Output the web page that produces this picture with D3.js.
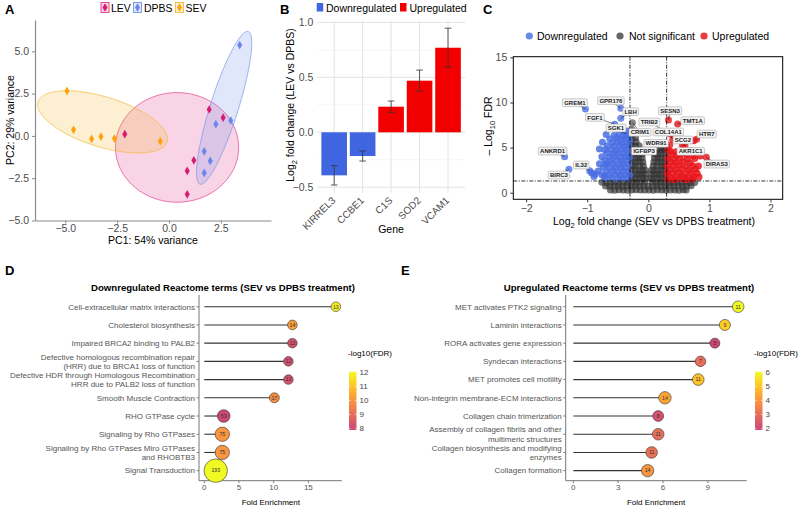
<!DOCTYPE html>
<html><head><meta charset="utf-8">
<script src="https://cdn.jsdelivr.net/npm/d3@7/dist/d3.min.js"></script>
<style>
html,body{margin:0;padding:0;background:#fff;}
svg{display:block;font-family:'Liberation Sans',Arial,Helvetica,sans-serif;}
</style></head>
<body>
<svg id="chart" width="800" height="509"></svg>
<script>
// ================= DATA =================
// Panel A – PCA
const pcaGroups = ["LEV","DPBS","SEV"];
const levPC  = [[-2.13,0.10],[0.88,-2.07],[0.88,-3.45],[1.20,-1.44],[1.94,1.56],[2.61,1.08]];
const dpbsPC = [[3.41,5.37],[2.98,0.91],[2.26,0.69],[1.70,-0.91],[1.99,-1.48],[1.70,-2.19]];
const sevPC  = [[-4.92,2.66],[-4.60,0.36],[-3.73,-0.18],[-3.28,-0.04],[-2.63,-0.16],[-0.42,-0.31]];
// ellipses: centre x, centre y, semi-axis1 (dx,dy), semi-axis2 (dx,dy) in data units
const levEllipse  = [0.39,-0.68, 2.97,0, 0,3.24];
const dpbsEllipse = [2.66,1.66, 1.163,4.515, 0.646,-0.249];
const sevEllipse  = [-3.20,0.83, 3.11,-1.18, -0.357,-1.41];
const pcaXTicks = [-5,-2.5,0,2.5];
const pcaYTicks = [-5,-2.5,0,2.5,5];

// Panel B – LEV vs DPBS
const genes   = ["KIRREL3","CCBE1","C1S","SOD2","VCAM1"];
const geneLFC = [-0.392,-0.216,0.233,0.470,0.770];
const geneErr = [0.088,0.046,0.052,0.096,0.178];
const geneDir = ["Downregulated","Downregulated","Upregulated","Upregulated","Upregulated"];
const lfcTicks = [-0.5,0,0.5,1.0];

// Panel C – volcano
const volcanoDown = [[-0.93,2.2],[-0.89,1.8],[-0.87,2.07],[-0.72,1.88],[-0.68,3.18],
 [-0.43,6.95],[-0.34,6.85],
 [-0.69,6.45],[-0.56,6.35],[-0.48,6.5],[-0.41,6.3],[-0.33,6.4],
 [-0.63,5.95],[-0.52,6.05],[-0.45,5.9],[-0.37,6.0],[-0.31,5.85],
 [-0.75,5.6],[-0.59,5.55],[-0.51,5.65],[-0.43,5.5],[-0.35,5.6],
 [-0.67,5.2],[-0.56,5.15],[-0.47,5.25],[-0.39,5.1],[-0.32,5.2],
 [-0.80,4.85],[-0.71,4.75],[-0.61,4.8],[-0.52,4.7],[-0.44,4.85],[-0.36,4.75],
 [-0.68,4.4],[-0.58,4.35],[-0.49,4.45],[-0.41,4.3],[-0.33,4.4],
 [-0.76,4.0],[-0.64,3.95],[-0.55,4.05],[-0.46,3.9],[-0.38,4.0],[-0.31,3.95],
 [-0.71,3.6],[-0.61,3.55],[-0.51,3.65],[-0.43,3.5],[-0.35,3.6],
 [-0.80,3.2],[-0.69,3.15],[-0.58,3.25],[-0.49,3.1],[-0.41,3.2],[-0.32,3.15],
 [-0.74,2.8],[-0.63,2.75],[-0.54,2.85],[-0.45,2.7],[-0.37,2.8],
 [-0.82,2.4],[-0.68,2.35],[-0.58,2.45],[-0.50,2.3],[-0.41,2.4],[-0.33,2.35],
 [-0.76,2.0],[-0.64,1.95],[-0.55,2.05],[-0.46,1.9],[-0.38,2.0],[-0.31,1.95],
 [-0.71,1.6],[-0.60,1.65],[-0.50,1.55],[-0.42,1.65],[-0.34,1.6]];
const volcanoUp = [[0.74,5.75],[0.56,5.25],[0.85,4.07],[0.62,4.55],
 [0.36,4.6],[0.45,4.55],[0.70,4.65],
 [0.38,4.2],[0.47,4.15],[0.63,4.25],[0.73,4.1],
 [0.32,3.8],[0.42,3.75],[0.52,3.85],[0.64,3.7],[0.76,3.8],
 [0.36,3.4],[0.46,3.35],[0.57,3.45],[0.68,3.3],
 [0.31,3.0],[0.41,2.95],[0.51,3.05],[0.62,2.9],[0.73,3.0],[0.82,2.95],
 [0.35,2.6],[0.45,2.55],[0.55,2.65],[0.66,2.5],[0.77,2.6],
 [0.31,2.2],[0.40,2.15],[0.50,2.25],[0.60,2.1],[0.70,2.2],[0.80,2.15],
 [0.34,1.8],[0.44,1.75],[0.54,1.85],[0.64,1.7],[0.74,1.8],[0.83,1.75],
 [0.32,1.5],[0.42,1.45],[0.52,1.55],[0.62,1.45],[0.72,1.5]];
const volcanoNS = [
 [-0.62,0.3],[-0.55,0.28],[-0.48,0.32],[-0.41,0.3],[-0.34,0.27],[-0.27,0.3],[-0.20,0.33],[-0.13,0.29],[-0.06,0.31],[0.01,0.3],
 [0.08,0.28],[0.15,0.32],[0.22,0.3],[0.29,0.27],[0.36,0.31],[0.43,0.3],[0.50,0.28],[0.57,0.32],[0.62,0.3],
 [-0.70,0.75],[-0.63,0.73],[-0.56,0.77],[-0.49,0.75],[-0.42,0.72],[-0.35,0.76],[-0.28,0.75],[-0.21,0.78],[-0.14,0.74],[-0.07,0.76],
 [0.0,0.72],[0.07,0.75],[0.14,0.77],[0.21,0.73],[0.28,0.75],[0.35,0.78],[0.42,0.74],[0.49,0.76],[0.56,0.73],[0.63,0.75],[0.70,0.77],
 [-0.76,1.15],[-0.69,1.13],[-0.62,1.17],[-0.55,1.15],[-0.48,1.12],[-0.41,1.16],[-0.34,1.15],[-0.27,1.18],[-0.20,1.14],[-0.13,1.16],[-0.06,1.2],
 [0.06,1.2],[0.13,1.14],[0.20,1.17],[0.27,1.15],[0.34,1.13],[0.41,1.16],[0.48,1.15],[0.55,1.12],[0.62,1.17],[0.69,1.15],[0.76,1.13],
 [-0.27,1.6],[-0.28,2.05],[-0.27,2.5],[-0.26,2.95],[-0.27,3.4],[-0.28,3.85],[-0.27,4.3],[-0.26,4.75],[-0.27,5.2],[-0.28,5.65],[-0.27,6.1],[-0.26,6.55],[-0.27,7.0],
 [-0.21,1.6],[-0.20,2.05],[-0.21,2.5],[-0.22,2.95],[-0.21,3.4],[-0.20,3.85],[-0.21,4.3],[-0.22,4.75],[-0.21,5.2],[-0.20,5.65],[-0.21,6.1],
 [-0.15,1.6],[-0.16,2.05],[-0.15,2.5],[-0.14,2.95],[-0.15,3.4],[-0.16,3.85],[-0.15,4.3],[-0.14,4.75],[-0.15,5.2],
 [-0.09,1.6],[-0.10,2.05],[-0.09,2.5],[-0.08,2.95],[-0.09,3.4],[-0.10,3.85],[-0.10,4.3],
 [-0.04,1.6],[-0.05,2.05],[-0.05,2.5],
 [0.04,1.6],[0.05,2.05],[0.05,2.5],
 [0.09,1.6],[0.10,2.05],[0.09,2.5],[0.08,2.95],[0.09,3.4],[0.10,3.85],[0.10,4.3],
 [0.15,1.6],[0.16,2.05],[0.15,2.5],[0.14,2.95],[0.15,3.4],[0.16,3.85],[0.15,4.3],[0.14,4.75],
 [0.21,1.6],[0.20,2.05],[0.21,2.5],[0.22,2.95],[0.21,3.4],[0.20,3.85],[0.21,4.3],[0.22,4.75],[0.21,5.1],
 [0.27,1.6],[0.28,2.05],[0.27,2.5],[0.26,2.95],[0.27,3.4],[0.28,3.85],[0.27,4.3],[0.26,4.75],[0.27,5.2]];
const volcanoLabelGenes = ["GREM1","ANKRD1","BIRC3","IL32","GPR176","LBH","FGF1","SGK1","CRIM1","SESN3","TMT1A","TRIB2","COL14A1","HTR7","WDR91","SCG2","IGFBP3","AKR1C1","DIRAS3"];
const volcanoLabelLFC   = [-1.03,-1.37,-1.30,-0.96,-0.45,-0.45,-0.55,-0.37,-0.26,0.33,0.48,0.36,0.40,0.79,0.35,0.60,0.32,0.55,0.95];
const volcanoLabelFDR   = [9.28,3.99,2.59,2.44,9.36,8.25,7.6,6.5,7.76,8.06,7.62,6.5,5.9,5.92,5.3,5.18,4.73,4.3,3.92];
const volcanoXTicks = [-2,-1,0,1,2];
const volcanoYTicks = [0,5,10,15];
const lfcCut = 0.3, fdrCut = 1.3;

// Panel D – downregulated Reactome
const downTerms = ["Cell-extracellular matrix interactions","Cholesterol biosynthesis","Impaired BRCA2 binding to PALB2",
 "Defective homologous recombination repair\n(HRR) due to BRCA1 loss of function",
 "Defective HDR through Homologous Recombination\nHRR due to PALB2 loss of function",
 "Smooth Muscle Contraction","RHO GTPase cycle","Signaling by Rho GTPases",
 "Signaling by Rho GTPases Miro GTPases\nand RHOBTB3","Signal Transduction"];
const downFold   = [18.96,12.70,12.70,12.12,12.12,10.10,2.80,2.60,2.60,1.65];
const downCount  = [13,14,12,12,12,17,53,75,75,193];
const downLogFDR = [11.8,10.2,8.2,8.2,8.2,9.8,7.9,10.0,10.0,12.05];
const downXTicks = [0,5,10,15];
const downLegendTicks = [8,9,10,11,12];

// Panel E – upregulated Reactome
const upTerms = ["MET activates PTK2 signaling","Laminin interactions","RORA activates gene expression","Syndecan interactions",
 "MET promotes cell motility","Non-integrin membrane-ECM interactions","Collagen chain trimerization",
 "Assembly of collagen fibrils and other\nmultimeric structures","Collagen biosynthesis and modifying\nenzymes","Collagen formation"];
const upFold   = [11.03,10.14,9.47,8.51,8.36,6.13,5.68,5.68,5.24,4.97];
const upCount  = [11,9,5,7,11,14,8,11,11,14];
const upLogFDR = [6.05,5.2,1.9,3.0,5.0,4.3,2.2,3.0,3.1,4.0];
const upXTicks = [0,3,6,9];
const upLegendTicks = [2,3,4,5,6];

// ================= DRAWING =================
const svg = d3.select("#chart");
const tickCol = "#4d4d4d";

function panelLabel(t,x,y){
  svg.append("text").attr("x",x).attr("y",y).text(t)
    .attr("font-size",13).attr("font-weight","bold").attr("fill","#000");
}
panelLabel("A",5,14); panelLabel("B",280,14); panelLabel("C",483,14);
panelLabel("D",5,275); panelLabel("E",401,275);

// ---------- Panel A ----------
(function(){
  const g = svg.append("g");
  const x = d3.scaleLinear().domain([-6.46,4.92]).range([35,271]);
  const y = d3.scaleLinear().domain([-5.0,6.85]).range([220.5,20]);
  const ellCol = {LEV:"#e0398f",DPBS:"#7493e8",SEV:"#f5b731"};
  const ptCol  = {LEV:"#d81b72",DPBS:"#6b84ee",SEV:"#ffa20a"};
  const pts = {LEV:levPC, DPBS:dpbsPC, SEV:sevPC};
  const ells = {LEV:levEllipse, DPBS:dpbsEllipse, SEV:sevEllipse};
  function ellPath(e){
    const a = d3.range(0,144).map(i=>i/144*2*Math.PI);
    return d3.line().curve(d3.curveLinearClosed)(a.map(t=>[
      x(e[0]+Math.cos(t)*e[2]+Math.sin(t)*e[4]),
      y(e[1]+Math.cos(t)*e[3]+Math.sin(t)*e[5])]));
  }
  pcaGroups.forEach(gr=>{
    g.append("path").attr("d",ellPath(ells[gr])).attr("fill",ellCol[gr]).attr("fill-opacity",0.22)
      .attr("stroke",ellCol[gr]).attr("stroke-opacity",0.75).attr("stroke-width",0.9);
  });
  const sym = d3.symbol(d3.symbolDiamond,22);
  pcaGroups.forEach(gr=>{
    g.selectAll(null).data(pts[gr]).enter().append("path").attr("d",sym)
      .attr("transform",d=>`translate(${x(d[0])},${y(d[1])})`).attr("fill",ptCol[gr]);
  });
  // axes
  const xa = g.append("g").attr("transform","translate(0,220.5)")
    .call(d3.axisBottom(x).tickValues(pcaXTicks).tickFormat(d3.format(".1f")).tickSize(3).tickPadding(1.5).tickSizeOuter(0));
  const ya = g.append("g").attr("transform","translate(35,0)")
    .call(d3.axisLeft(y).tickValues(pcaYTicks).tickFormat(d3.format(".1f")).tickSize(3).tickSizeOuter(0));
  [xa,ya].forEach(a=>{
    a.select(".domain").attr("stroke","#8a8a8a").attr("stroke-width",1.2);
    a.selectAll(".tick line").attr("stroke","#8a8a8a");
    a.selectAll("text").attr("fill",tickCol).attr("font-size",10.5).attr("font-family",null);
  });
  g.append("text").attr("x",153).attr("y",244).attr("text-anchor","middle").attr("font-size",10.5).attr("fill","#000").text("PC1: 54% variance");
  g.append("text").attr("transform","translate(13.5,120) rotate(-90)").attr("text-anchor","middle").attr("font-size",10.5).attr("fill","#000").text("PC2: 29% variance");
  // legend
  const lx = {LEV:[101,111],DPBS:[133.5,144],SEV:[175.5,185.5]};
  pcaGroups.forEach(gr=>{
    const [kx,tx] = lx[gr];
    g.append("rect").attr("x",kx).attr("y",2.5).attr("width",8).attr("height",10)
      .attr("fill",ellCol[gr]).attr("fill-opacity",0.22).attr("stroke",ellCol[gr]).attr("stroke-width",0.9);
    g.append("path").attr("d",sym).attr("transform",`translate(${kx+4},7.5)`).attr("fill",ptCol[gr]);
    g.append("text").attr("x",tx).attr("y",11.5).attr("font-size",10.5).attr("fill","#000").text(gr);
  });
})();

// ---------- Panel B ----------
(function(){
  const g = svg.append("g");
  const L=317.1,R=465.1,T=20.5,B=192.8;
  const x = d3.scaleBand().domain(genes).range([L,R]).paddingInner(0.1).paddingOuter(0.15);
  const y = d3.scaleLinear().domain([-0.551,1.018]).range([B,T]);
  const bw = x.bandwidth();
  [-0.25,0.25,0.75].forEach(v=>g.append("line").attr("x1",L).attr("x2",R).attr("y1",y(v)).attr("y2",y(v)).attr("stroke","#f0f0f0").attr("stroke-width",0.6));
  lfcTicks.forEach(v=>g.append("line").attr("x1",L).attr("x2",R).attr("y1",y(v)).attr("y2",y(v)).attr("stroke","#e3e3e3").attr("stroke-width",1));
  genes.forEach(gn=>g.append("line").attr("x1",x(gn)+bw/2).attr("x2",x(gn)+bw/2).attr("y1",T).attr("y2",B).attr("stroke","#e3e3e3").attr("stroke-width",1));
  const col = {Downregulated:"#3f65e0",Upregulated:"#f20000"};
  genes.forEach((gn,i)=>{
    const v=geneLFC[i];
    g.append("rect").attr("x",x(gn)).attr("width",bw).attr("y",y(Math.max(0,v))).attr("height",Math.abs(y(v)-y(0)))
      .attr("fill",col[geneDir[i]]);
  });
  genes.forEach((gn,i)=>{
    const cx=x(gn)+bw/2, v=geneLFC[i], e=geneErr[i];
    g.append("line").attr("x1",cx).attr("x2",cx).attr("y1",y(v-e)).attr("y2",y(v+e)).attr("stroke","#333").attr("stroke-width",0.8);
    [v-e,v+e].forEach(w=>g.append("line").attr("x1",cx-3.3).attr("x2",cx+3.3).attr("y1",y(w)).attr("y2",y(w)).attr("stroke","#333").attr("stroke-width",0.8));
  });
  lfcTicks.forEach(v=>g.append("text").attr("x",313.3).attr("y",y(v)).attr("dy","0.35em").attr("text-anchor","end")
    .attr("font-size",10.5).attr("fill",tickCol).text(d3.format(".1f")(v)));
  genes.forEach(gn=>g.append("text").attr("transform",`translate(${x(gn)+bw/2+2},201) rotate(-45)`).attr("text-anchor","end")
    .attr("font-size",10).attr("fill",tickCol).text(gn));
  g.append("text").attr("x",391).attr("y",233).attr("text-anchor","middle").attr("font-size",10.5).attr("fill","#000").text("Gene");
  const yl = g.append("text").attr("transform","translate(294,105) rotate(-90)").attr("text-anchor","middle").attr("font-size",10.5).attr("fill","#000");
  yl.append("tspan").text("Log");
  yl.append("tspan").attr("font-size",7.5).attr("dy",3).text("2");
  yl.append("tspan").attr("dy",-3).text(" fold change (LEV vs DPBS)");
  // legend
  [["Downregulated",316.7,326],["Upregulated",400,409.5]].forEach(([t,kx,tx])=>{
    g.append("rect").attr("x",kx).attr("y",3).attr("width",6.5).attr("height",8.5).attr("fill",col[t]);
    g.append("text").attr("x",tx).attr("y",11.5).attr("font-size",10.5).attr("fill","#000").text(t);
  });
})();

// ---------- Panel C ----------
(function(){
  const g = svg.append("g");
  const L=513.3,R=782.7,T=56.7,B=199.3;
  const x = d3.scaleLinear().domain([-2.21,2.20]).range([L,R]);
  const y = d3.scaleLinear().domain([-0.73,15.08]).range([B,T]);
  const colNS="#333333", colDown="#4a6fe3", colUp="#e8141a";
  const rad = 3.5;
  const plot = g.append("g");
  plot.selectAll(null).data(volcanoNS).enter().append("circle").attr("cx",d=>x(d[0])).attr("cy",d=>y(d[1])).attr("r",rad)
    .attr("fill",colNS).attr("fill-opacity",0.68);
  const lab = volcanoLabelGenes.map((gname,i)=>({g:gname,x:volcanoLabelLFC[i],y:volcanoLabelFDR[i]}));
  const cat = d=> (d.y>fdrCut && d.x<-lfcCut) ? "down" : (d.y>fdrCut && d.x>lfcCut) ? "up" : "ns";
  lab.filter(d=>cat(d)==="ns").forEach(d=>plot.append("circle").attr("cx",x(d.x)).attr("cy",y(d.y)).attr("r",rad).attr("fill",colNS).attr("fill-opacity",0.6));
  plot.selectAll(null).data(volcanoDown).enter().append("circle").attr("cx",d=>x(d[0])).attr("cy",d=>y(d[1])).attr("r",rad)
    .attr("fill",colDown).attr("fill-opacity",0.85);
  plot.selectAll(null).data(volcanoUp).enter().append("circle").attr("cx",d=>x(d[0])).attr("cy",d=>y(d[1])).attr("r",rad)
    .attr("fill",colUp).attr("fill-opacity",0.85);
  lab.filter(d=>cat(d)!=="ns").forEach(d=>plot.append("circle").attr("cx",x(d.x)).attr("cy",y(d.y)).attr("r",rad)
    .attr("fill",cat(d)==="down"?colDown:colUp).attr("fill-opacity",0.8));
  // threshold lines
  const dash="4,1.5,1,1.5";
  [-lfcCut,lfcCut].forEach(v=>g.append("line").attr("x1",x(v)).attr("x2",x(v)).attr("y1",T).attr("y2",B).attr("stroke","#000").attr("stroke-width",0.8).attr("stroke-dasharray",dash));
  g.append("line").attr("x1",L).attr("x2",R).attr("y1",y(fdrCut)).attr("y2",y(fdrCut)).attr("stroke","#000").attr("stroke-width",0.8).attr("stroke-dasharray",dash);
  // labels (layout nudges in px)
  const labelNudge = {GREM1:[-10.5,-6.3],ANKRD1:[-12,-5.7],BIRC3:[-10,5.7],IL32:[-8.4,-5.7],GPR176:[-9.9,-7.6],LBH:[9.8,-6.6],
    FGF1:[-19.8,-6.8],SGK1:[-9.7,-6.1],CRIM1:[7.6,9.6],SESN3:[1.6,-9.3],TMT1A:[15.1,-3.3],TRIB2:[-21,-12.1],COL14A1:[-4.4,-7.5],
    HTR7:[10.2,-5.3],WDR91:[-13.6,-1.6],SCG2:[-2,-6],IGFBP3:[-23.8,1],AKR1C1:[8.8,-2.6],DIRAS3:[10.4,6.7]};
  const lg = g.append("g");
  lab.forEach(d=>{
    const px=x(d.x), py=y(d.y), n=labelNudge[d.g], lx=px+n[0], ly=py+n[1];
    lg.append("line").attr("x1",px).attr("y1",py).attr("x2",lx).attr("y2",ly).attr("stroke","#111").attr("stroke-width",0.55);
  });
  lab.forEach(d=>{
    const px=x(d.x), py=y(d.y), n=labelNudge[d.g], lx=px+n[0], ly=py+n[1];
    const r = lg.append("rect");
    const t = lg.append("text").attr("x",lx).attr("y",ly).attr("dy","0.36em").attr("text-anchor","middle")
      .attr("font-size",6).attr("font-weight","bold").attr("fill","#222").text(d.g);
    const w = t.node().getComputedTextLength()+3.5;
    r.attr("x",lx-w/2).attr("y",ly-3.9).attr("width",w).attr("height",7.8).attr("rx",1.2)
      .attr("fill","#f3f3f3").attr("stroke","#9a9a9a").attr("stroke-width",0.5);
  });
  g.append("rect").attr("x",L).attr("y",T).attr("width",R-L).attr("height",B-T).attr("fill","none").attr("stroke","#000").attr("stroke-width",1);
  const xa = g.append("g").attr("transform",`translate(0,${B})`).call(d3.axisBottom(x).tickValues(volcanoXTicks).tickFormat(d3.format("d")).tickSize(3).tickPadding(2).tickSizeOuter(0));
  const ya = g.append("g").attr("transform",`translate(${L},0)`).call(d3.axisLeft(y).tickValues(volcanoYTicks).tickFormat(d3.format("d")).tickSize(3).tickSizeOuter(0));
  [xa,ya].forEach(a=>{a.select(".domain").remove(); a.selectAll(".tick line").attr("stroke","#333");
    a.selectAll("text").attr("fill",tickCol).attr("font-size",10.5).attr("font-family",null);});
  const xt = g.append("text").attr("x",654).attr("y",225).attr("text-anchor","middle").attr("font-size",10.5).attr("fill","#000");
  xt.append("tspan").text("Log"); xt.append("tspan").attr("font-size",7.5).attr("dy",3).text("2");
  xt.append("tspan").attr("dy",-3).text(" fold change (SEV vs DPBS treatment)");
  const yt = g.append("text").attr("transform","translate(492,126) rotate(-90)").attr("text-anchor","middle").attr("font-size",10.5).attr("fill","#000");
  yt.append("tspan").text("– Log"); yt.append("tspan").attr("font-size",7.5).attr("dy",3).text("10");
  yt.append("tspan").attr("dy",-3).text(" FDR");
  // legend
  [["Downregulated",529.3,537,"#6a88e8"],["Not significant",620,629,"#666"],["Upregulated",704,712,"#eb3a3f"]].forEach(([t,cx,tx,c])=>{
    g.append("circle").attr("cx",cx).attr("cy",36).attr("r",3.6).attr("fill",c);
    g.append("text").attr("x",tx).attr("y",39.7).attr("font-size",10.5).attr("fill","#000").text(t);
  });
})();

// ---------- Panels D & E ----------
function lollipop(cfg){
  const g = svg.append("g");
  const x = d3.scaleLinear().domain(cfg.xDomain).range(cfg.xRange);
  const y = d3.scalePoint().domain(cfg.terms).range([295.8,481.6]).padding(0.6);
  const cdom = cfg.cDomain;
  const col = d3.scaleSequential(t=>d3.interpolatePlasma(0.5+0.5*t)).domain(cdom);
  const r = d3.scaleLinear().domain(cfg.rDomain).range(cfg.rRange);
  const x0 = cfg.xRange[0], axY = 480.7;
  g.append("text").attr("x",cfg.titleX).attr("y",291).attr("text-anchor","middle").attr("font-size",9.6).attr("font-weight","bold").attr("fill","#000").text(cfg.title);
  g.append("line").attr("x1",x0).attr("x2",x0).attr("y1",295).attr("y2",axY).attr("stroke","#666").attr("stroke-width",0.9);
  g.append("line").attr("x1",x0).attr("x2",cfg.xRange[1]).attr("y1",axY).attr("y2",axY).attr("stroke","#666").attr("stroke-width",0.9);
  cfg.terms.forEach(t=>{
    g.append("line").attr("x1",x0-2.5).attr("x2",x0).attr("y1",y(t)).attr("y2",y(t)).attr("stroke","#666").attr("stroke-width",0.8);
    const lines = t.split("\n");
    const tx = g.append("text").attr("text-anchor","end").attr("font-size",8).attr("fill","#555");
    lines.forEach((ln,j)=>tx.append("tspan").attr("x",x0-4).attr("y",y(t)+(j-(lines.length-1)/2)*9.3).attr("dy","0.35em").text(ln));
  });
  cfg.xTicks.forEach(v=>{
    g.append("line").attr("x1",x(v)).attr("x2",x(v)).attr("y1",axY).attr("y2",axY+2.5).attr("stroke","#666").attr("stroke-width",0.8);
    g.append("text").attr("x",x(v)).attr("y",489.5).attr("text-anchor","middle").attr("font-size",8).attr("fill","#555").text(v);
  });
  g.append("text").attr("x",cfg.xTitleX).attr("y",504.5).attr("text-anchor","middle").attr("font-size",8).attr("fill","#000").text("Fold Enrichment");
  cfg.terms.forEach((t,i)=>{
    g.append("line").attr("x1",x(0)).attr("x2",x(cfg.fold[i])).attr("y1",y(t)).attr("y2",y(t)).attr("stroke","#333").attr("stroke-width",1.1);
  });
  cfg.terms.forEach((t,i)=>{
    g.append("circle").attr("cx",x(cfg.fold[i])).attr("cy",y(t)).attr("r",r(cfg.count[i]))
      .attr("fill",col(cfg.logfdr[i])).attr("stroke","#333").attr("stroke-width",0.6);
    g.append("text").attr("x",x(cfg.fold[i])).attr("y",y(t)).attr("dy","0.35em").attr("text-anchor","middle")
      .attr("font-size",5.2).attr("fill","#333").text(cfg.count[i]);
  });
  const lx = cfg.legendX;
  g.append("text").attr("x",lx).attr("y",356).attr("font-size",8).attr("fill","#000").text("-log10(FDR)");
  const gid = "grad"+cfg.id;
  const grad = svg.append("defs").append("linearGradient").attr("id",gid).attr("x1",0).attr("y1",1).attr("x2",0).attr("y2",0);
  d3.range(0,11).forEach(k=>grad.append("stop").attr("offset",k/10).attr("stop-color",d3.interpolatePlasma(0.5+0.05*k)));
  const ly = d3.scaleLinear().domain(cdom).range([430,371.7]);
  g.append("rect").attr("x",lx+1).attr("y",371.7).attr("width",7.5).attr("height",58.3).attr("fill",`url(#${gid})`);
  cfg.legendTicks.forEach(v=>{
    g.append("line").attr("x1",lx+1).attr("x2",lx+2.5).attr("y1",ly(v)).attr("y2",ly(v)).attr("stroke","#fff").attr("stroke-width",0.6);
    g.append("line").attr("x1",lx+7).attr("x2",lx+8.5).attr("y1",ly(v)).attr("y2",ly(v)).attr("stroke","#fff").attr("stroke-width",0.6);
    g.append("text").attr("x",lx+11.5).attr("y",ly(v)).attr("dy","0.35em").attr("font-size",8).attr("fill","#444").text(v);
  });
}
lollipop({id:"D",terms:downTerms,fold:downFold,count:downCount,logfdr:downLogFDR,xDomain:[-0.76,19.8],xRange:[199,341.7],
  cDomain:[7.9,12.05],rDomain:[13,193],rRange:[4.8,11.7],xTicks:downXTicks,legendTicks:downLegendTicks,
  title:"Downregulated Reactome terms (SEV vs DPBS treatment)",titleX:223,xTitleX:270.8,legendX:348});
lollipop({id:"E",terms:upTerms,fold:upFold,count:upCount,logfdr:upLogFDR,xDomain:[-0.51,11.6],xRange:[565.7,746.7],
  cDomain:[1.9,6.05],rDomain:[5,14],rRange:[5,6.2],xTicks:upXTicks,legendTicks:upLegendTicks,
  title:"Upregulated Reactome terms (SEV vs DPBS treatment)",titleX:629,xTitleX:656,legendX:754});
</script></body></html>
